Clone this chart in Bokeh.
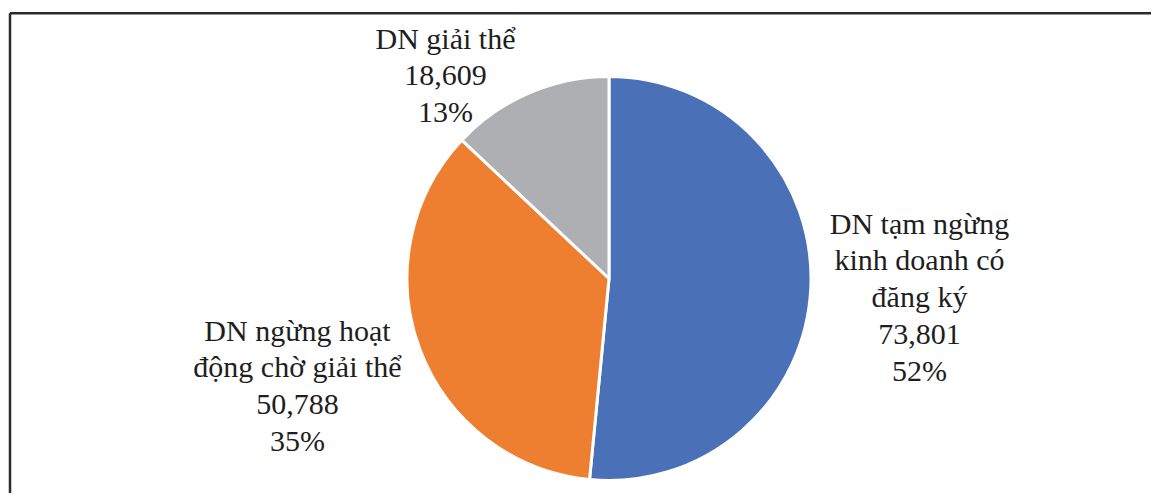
import math
from bokeh.plotting import figure
from bokeh.models import Range1d, ColumnDataSource
from bokeh.core.properties import value
from bokeh.embed import file_html
from bokeh.resources import INLINE

# ---- data ----
categories = ["DN tạm ngừng\nkinh doanh có\nđăng ký",
              "DN ngừng hoạt\nđộng chờ giải thể",
              "DN giải thể"]
counts = [73801, 50788, 18609]
count_labels = ["73,801", "50,788", "18,609"]
pct_labels = ["52%", "35%", "13%"]
colors = ["#4A71B7", "#EE7F30", "#AEAFB2"]

# ---- layout (picture pixel coordinates; y measured from top) ----
W, H = 1151, 493
cx, cy_top, radius = 608.5, 278.0, 202.0
label_x = [919, 297, 445]
label_top = [206, 313, 21]

total = float(sum(counts))
starts, ends = [], []
a = math.pi / 2
for c in counts:
    starts.append(a)
    a = a - 2 * math.pi * c / total
    ends.append(a)

p = figure(width=W, height=H, output_backend="svg", toolbar_location=None,
           x_range=Range1d(0, W), y_range=Range1d(0, H),
           x_axis_type=None, y_axis_type=None, min_border=0,
           outline_line_color=None, background_fill_color="white",
           border_fill_color="white")
p.grid.visible = False

src = ColumnDataSource(dict(start=starts, end=ends, color=colors))
p.wedge(x=cx, y=H - cy_top, radius=radius, start_angle="start",
        end_angle="end", direction="clock", fill_color="color",
        line_color="white", line_width=3, source=src)

texts = [f"{cat}\n{n}\n{pc}" for cat, n, pc in zip(categories, count_labels, pct_labels)]
tsrc = ColumnDataSource(dict(x=label_x, y=[H - t for t in label_top], t=texts))
p.text(x="x", y="y", text="t", source=tsrc, text_align="center",
       text_baseline="top", text_font=value("Liberation Serif"),
       text_font_size="30px", text_color="#1e1e1e", text_line_height=1.12)

# frame decoration (top and left border lines of the original panel)
p.segment(x0=[9.5, 9.5], y0=[H - 12.8, H - 12.8],
          x1=[W, 9.5], y1=[H - 12.8, 0],
          line_color="#2a2a2a", line_width=2.5)

open("out.html", "w").write(file_html(p, INLINE))
